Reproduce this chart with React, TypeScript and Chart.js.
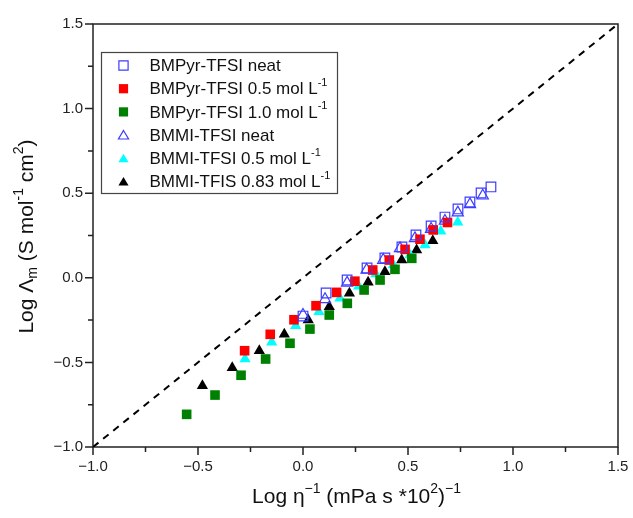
import React, { useEffect, useRef } from 'react';
import { Chart, registerables } from 'chart.js';

Chart.register(...registerables);

const FONT = '"Liberation Sans", Arial, sans-serif';

// BMPyr-TFSI neat (open blue squares)
const pyrNeatX = [0.0, 0.11, 0.21, 0.305, 0.39, 0.471, 0.538, 0.61, 0.676, 0.738, 0.795, 0.848, 0.895];
const pyrNeatY = [-0.226, -0.09, -0.013, 0.058, 0.117, 0.182, 0.253, 0.306, 0.359, 0.407, 0.448, 0.501, 0.537];
// BMPyr-TFSI 0.5 mol/L (red squares)
const pyr05X = [-0.278, -0.156, -0.043, 0.062, 0.16, 0.247, 0.332, 0.411, 0.486, 0.557, 0.62, 0.688];
const pyr05Y = [-0.431, -0.334, -0.248, -0.165, -0.086, -0.02, 0.046, 0.105, 0.168, 0.228, 0.283, 0.327];
// BMPyr-TFSI 1.0 mol/L (green squares)
const pyr10X = [-0.554, -0.419, -0.295, -0.178, -0.062, 0.033, 0.125, 0.211, 0.291, 0.367, 0.438, 0.518];
const pyr10Y = [-0.807, -0.693, -0.576, -0.48, -0.387, -0.303, -0.22, -0.151, -0.072, -0.013, 0.05, 0.115];
// BMMI-TFSI neat (open blue triangles)
const mmiNeatX = [0.0, 0.105, 0.21, 0.303, 0.382, 0.462, 0.533, 0.61, 0.676, 0.737, 0.795, 0.856];
const mmiNeatY = [-0.22, -0.127, -0.03, 0.046, 0.105, 0.174, 0.233, 0.288, 0.336, 0.385, 0.434, 0.485];
// BMMI-TFSI 0.5 mol/L (cyan triangles)
const mmi05X = [-0.276, -0.149, -0.035, 0.076, 0.176, 0.265, 0.347, 0.43, 0.51, 0.581, 0.656, 0.737];
const mmi05Y = [-0.48, -0.381, -0.283, -0.2, -0.121, -0.05, 0.022, 0.076, 0.135, 0.194, 0.275, 0.328];
// BMMI-TFIS 0.83 mol/L (black triangles)
const mmi083X = [-0.479, -0.337, -0.208, -0.089, 0.025, 0.125, 0.221, 0.31, 0.39, 0.47, 0.541, 0.618];
const mmi083Y = [-0.638, -0.531, -0.431, -0.334, -0.249, -0.171, -0.092, -0.026, 0.036, 0.105, 0.164, 0.219];

// reference line y = x
const refLineX = [-1.0, 1.5];

const axisMin = -1.0;
const axisMax = 1.5;
const majorStep = 0.5;
const minorStep = 0.25;

type Seg = { t: string; s?: 'sup' | 'sub' };

const seriesNames: Seg[][] = [
  [{ t: 'BMPyr-TFSI neat' }],
  [{ t: 'BMPyr-TFSI 0.5 mol L' }, { t: '-1', s: 'sup' }],
  [{ t: 'BMPyr-TFSI 1.0 mol L' }, { t: '-1', s: 'sup' }],
  [{ t: 'BMMI-TFSI neat' }],
  [{ t: 'BMMI-TFSI 0.5 mol L' }, { t: '-1', s: 'sup' }],
  [{ t: 'BMMI-TFIS 0.83 mol L' }, { t: '-1', s: 'sup' }],
];

const xTitle: Seg[] = [
  { t: 'Log η' }, { t: '−1', s: 'sup' }, { t: ' (mPa s *10' }, { t: '2', s: 'sup' }, { t: ')' }, { t: '−1', s: 'sup' },
];
const yTitle: Seg[] = [
  { t: 'Log Λ' }, { t: 'm', s: 'sub' }, { t: ' (S mol' }, { t: '-1', s: 'sup' }, { t: ' cm' }, { t: '2', s: 'sup' }, { t: ')' },
];

const BLUE = 'rgb(60,60,255)';
const styles = [
  { shape: 'rect', fill: false, color: BLUE },
  { shape: 'rect', fill: true, color: '#ff0000' },
  { shape: 'rect', fill: true, color: '#008000' },
  { shape: 'triangle', fill: false, color: BLUE },
  { shape: 'triangle', fill: true, color: '#00ffff' },
  { shape: 'triangle', fill: true, color: '#000000' },
];

const zip = (xs: number[], ys: number[]) => xs.map((x, i) => ({ x, y: ys[i] }));

function drawRich(ctx: CanvasRenderingContext2D, segs: Seg[], x: number, y: number, size: number, align: 'left' | 'center') {
  const small = Math.round(size * 0.65);
  const widths = segs.map((sg) => {
    ctx.font = `${sg.s ? small : size}px ${FONT}`;
    return ctx.measureText(sg.t).width;
  });
  const total = widths.reduce((a, b) => a + b, 0);
  let cx = align === 'center' ? x - total / 2 : x;
  ctx.textBaseline = 'middle';
  ctx.textAlign = 'left';
  segs.forEach((sg, i) => {
    ctx.font = `${sg.s ? small : size}px ${FONT}`;
    const dy = sg.s === 'sup' ? -size * 0.38 : sg.s === 'sub' ? size * 0.28 : 0;
    ctx.fillText(sg.t, cx, y + dy);
    cx += widths[i];
  });
}

function drawMarker(ctx: CanvasRenderingContext2D, shape: string, fill: boolean, color: string, x: number, y: number, r: number) {
  ctx.beginPath();
  if (shape === 'rect') {
    ctx.rect(x - r, y - r, 2 * r, 2 * r);
  } else {
    const h = r * 1.0;
    ctx.moveTo(x, y - h);
    ctx.lineTo(x + h * 1.1, y + h * 0.85);
    ctx.lineTo(x - h * 1.1, y + h * 0.85);
    ctx.closePath();
  }
  if (fill) {
    ctx.fillStyle = color;
    ctx.fill();
  } else {
    ctx.strokeStyle = color;
    ctx.lineWidth = 1.2;
    ctx.stroke();
  }
}

const framePlugin = {
  id: 'framePlugin',
  beforeDatasetsDraw(chart: any) {
    const { ctx, chartArea: a, scales } = chart;
    ctx.save();
    ctx.strokeStyle = '#222';
    ctx.lineWidth = 1.5;
    ctx.strokeRect(a.left, a.top, a.right - a.left, a.bottom - a.top);
    // ticks
    const n = Math.round((axisMax - axisMin) / minorStep);
    for (let i = 0; i <= n; i++) {
      const v = axisMin + i * minorStep;
      const len = i % Math.round(majorStep / minorStep) === 0 ? 8 : 5;
      const px = scales.x.getPixelForValue(v);
      const py = scales.y.getPixelForValue(v);
      ctx.beginPath();
      ctx.moveTo(px, a.bottom);
      ctx.lineTo(px, a.bottom + len);
      ctx.moveTo(a.left, py);
      ctx.lineTo(a.left - len, py);
      ctx.stroke();
    }
    ctx.restore();
  },
  afterDraw(chart: any) {
    const { ctx, chartArea: a } = chart;
    ctx.save();
    // legend
    const bx = a.left + 8.5;
    const by = a.top + 28.5;
    const bw = 236;
    const bh = 141;
    ctx.fillStyle = '#ffffff';
    ctx.fillRect(bx, by, bw, bh);
    ctx.strokeStyle = '#444';
    ctx.lineWidth = 1.2;
    ctx.strokeRect(bx, by, bw, bh);
    seriesNames.forEach((segs, i) => {
      const yy = by + 13 + i * 23.2;
      const st = styles[i];
      drawMarker(ctx, st.shape, st.fill, st.color, bx + 22, yy, 4.6);
      ctx.fillStyle = '#111';
      drawRich(ctx, segs, bx + 48, yy + 1, 17, 'left');
    });
    // axis titles
    ctx.fillStyle = '#111';
    drawRich(ctx, xTitle, (a.left + a.right) / 2 + 1, 497, 21, 'center');
    ctx.save();
    ctx.translate(27, (a.top + a.bottom) / 2 + 1);
    ctx.rotate(-Math.PI / 2);
    drawRich(ctx, yTitle, 0, 0, 21, 'center');
    ctx.restore();
    ctx.restore();
  },
};

const fmt = (v: number) => (v < 0 ? '−' + Math.abs(v).toFixed(1) : v.toFixed(1));

export default function App() {
  const ref = useRef<HTMLCanvasElement | null>(null);
  useEffect(() => {
    if (!ref.current) return;
    const sets = [
      zip(pyrNeatX, pyrNeatY),
      zip(pyr05X, pyr05Y),
      zip(pyr10X, pyr10Y),
      zip(mmiNeatX, mmiNeatY),
      zip(mmi05X, mmi05Y),
      zip(mmi083X, mmi083Y),
    ];
    const datasets: any[] = sets.map((data, i) => {
      const st = styles[i];
      return {
        type: 'scatter',
        data,
        pointStyle: st.shape,
        pointRadius: st.shape === 'rect' ? 6.8 : 6.5,
        pointBackgroundColor: st.fill ? st.color : 'rgba(0,0,0,0)',
        pointBorderColor: st.color,
        pointBorderWidth: st.fill ? 0 : 1.2,
        order: 0,
      };
    });
    datasets.push({
      type: 'line',
      data: refLineX.map((x) => ({ x, y: x })),
      borderColor: '#000',
      borderWidth: 2,
      borderDash: [7, 6],
      pointRadius: 0,
      fill: false,
      order: 10,
    });
    const chart = new Chart(ref.current, {
      type: 'scatter',
      data: { datasets },
      options: {
        animation: false,
        responsive: false,
        layout: { padding: { left: 0, right: 15, top: 24, bottom: 0 } },
        plugins: { legend: { display: false }, tooltip: { enabled: false } },
        scales: {
          x: {
            type: 'linear',
            min: axisMin,
            max: axisMax,
            afterFit: (s: any) => { s.height = 71; s.paddingRight = 10; s.paddingLeft = 10; },
            grid: { display: false, drawTicks: false },
            border: { display: false },
            ticks: { stepSize: majorStep, padding: 11, color: '#222', font: { family: FONT, size: 15 }, callback: (v: any) => fmt(Number(v)), maxRotation: 0 },
          },
          y: {
            type: 'linear',
            min: axisMin,
            max: axisMax,
            afterFit: (s: any) => { s.width = 93; s.paddingTop = 10; s.paddingBottom = 10; },
            grid: { display: false, drawTicks: false },
            border: { display: false },
            ticks: { stepSize: majorStep, padding: 10, color: '#222', font: { family: FONT, size: 15 }, callback: (v: any) => fmt(Number(v)) },
          },
        },
      },
      plugins: [framePlugin],
    });
    return () => chart.destroy();
  }, []);
  return (
    <div style={{ position: 'fixed', left: 0, top: 0, width: 633, height: 518, background: '#fff' }}>
      <canvas ref={ref} width={633} height={518} style={{ display: 'block' }} />
    </div>
  );
}
